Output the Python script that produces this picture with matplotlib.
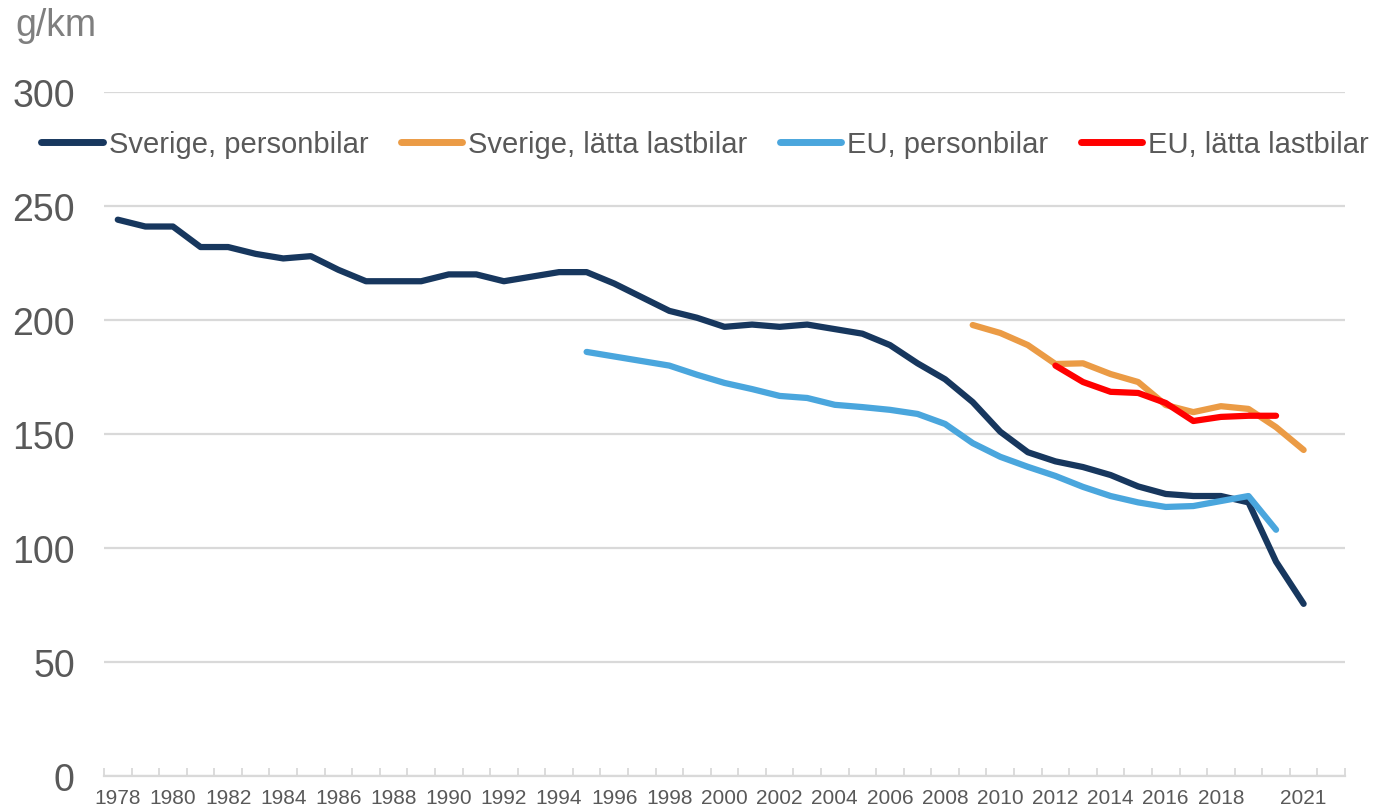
import numpy as np
import matplotlib
matplotlib.use("Agg")
import matplotlib.pyplot as plt

# CO2-utsläpp från nya fordon, g/km
years = list(range(1978, 2023))  # 2022 is an empty slot at the right edge

sverige_pb_years = list(range(1978, 2022))
sverige_pb = [244, 241, 241, 232, 232, 229, 227, 228, 222, 217,
              217, 217, 220, 220, 217, 219, 221, 221, 216, 210,
              204, 201, 197, 198, 197, 198, 196, 194, 189, 181,
              174, 164, 151, 142, 138, 135.5, 132, 127, 123.7, 122.8,
              122.8, 120, 94, 75.5]

sverige_ll_years = list(range(2009, 2022))
sverige_ll = [197.8, 194.3, 189, 180.7, 181, 176.3, 172.8, 162.7, 159.6,
              162.2, 161, 153, 143]

eu_pb_years = list(range(1995, 2021))
eu_pb = [186, 184, 182, 180, 176, 172.4, 169.7, 166.7, 165.8, 162.8,
         161.8, 160.6, 158.8, 154.4, 146, 140, 135.6, 131.6, 126.8, 122.8,
         120, 118, 118.4, 120.6, 122.8, 108]

eu_ll_years = list(range(2012, 2021))
eu_ll = [180, 172.8, 168.5, 168, 163.6, 155.7, 157.5, 158, 158]

tick_years = list(range(1978, 2019, 2)) + [2021]
y_ticks = [0, 50, 100, 150, 200, 250, 300]

NAVY = "#17375E"
ORANGE = "#EB9B45"
BLUE = "#4AA6DD"
RED = "#FF0000"
TEXT = "#595959"

plt.rcParams["font.family"] = ["Liberation Sans", "DejaVu Sans"]


def idx(ys):
    return [years.index(y) for y in ys]


fig = plt.figure(figsize=(13.74, 8.12), dpi=100)
ax = fig.add_axes([104 / 1374, 1 - 777 / 812, (1345 - 104) / 1374, (777 - 93) / 812])

lw = 4.5
style = dict(lw=lw, solid_capstyle="round", solid_joinstyle="round")
ax.plot(idx(sverige_pb_years), sverige_pb, color=NAVY, label="Sverige, personbilar", zorder=3, **style)
ax.plot(idx(sverige_ll_years), sverige_ll, color=ORANGE, label="Sverige, lätta lastbilar", zorder=3, **style)
ax.plot(idx(eu_pb_years), eu_pb, color=BLUE, label="EU, personbilar", zorder=3, **style)
ax.plot(idx(eu_ll_years), eu_ll, color=RED, label="EU, lätta lastbilar", zorder=4, **style)

ax.set_xlim(-0.5, len(years) - 0.5)
ax.set_ylim(0, 300)
ax.set_yticks(y_ticks)
ax.set_yticklabels([str(v) for v in y_ticks], fontsize=27, color=TEXT)
ax.yaxis.grid(True, color="#D9D9D9", lw=1.6)
ax.set_axisbelow(True)
ax.tick_params(axis="y", length=0, pad=21)

ax.set_xticks(idx(tick_years))
ax.set_xticklabels([str(y) for y in tick_years], fontsize=15, color=TEXT)
ax.set_xticks(np.arange(-0.5, len(years)), minor=True)
ax.tick_params(axis="x", which="major", length=0, pad=9)
ax.tick_params(axis="x", which="minor", length=6, direction="in", color="#D9D9D9", width=1.3)

for s in ["top", "right", "left"]:
    ax.spines[s].set_visible(False)
ax.spines["bottom"].set_color("#D9D9D9")
ax.spines["bottom"].set_linewidth(1.6)

fig.text(15 / 1374, 1 - 26 / 812, "g/km", fontsize=27, color="#7F7F7F", va="center", ha="left")

leg = fig.legend(loc="center", bbox_to_anchor=(705 / 1374, 1 - 145 / 812), ncol=4,
                 frameon=False, fontsize=21, handlelength=2.1, handletextpad=0.2,
                 columnspacing=1.12, labelcolor=TEXT)
for h in leg.legend_handles:
    h.set_linewidth(5)

fig.savefig("out.png", dpi=100)
